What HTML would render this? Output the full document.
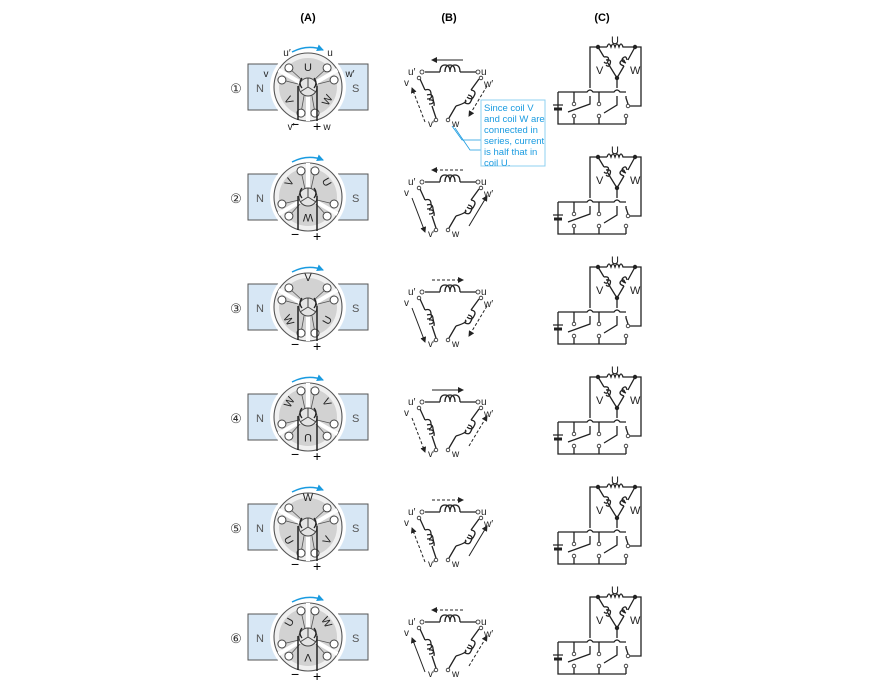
<!DOCTYPE html>
<html><head><meta charset="utf-8"><style>
body{margin:0;background:#fff}
svg{display:block;font-family:"Liberation Sans",sans-serif}
</style></head><body>
<svg width="870" height="680" viewBox="0 0 870 680" xmlns="http://www.w3.org/2000/svg">
<defs>
<marker id="ah" markerWidth="6" markerHeight="6" refX="5" refY="3" orient="auto" markerUnits="userSpaceOnUse"><path d="M0,0 L6,3 L0,6z" fill="#222"/></marker>
<marker id="bh" markerWidth="7" markerHeight="7" refX="6" refY="3.5" orient="auto" markerUnits="userSpaceOnUse"><path d="M0,0 L7,3.5 L0,7z" fill="#1a9be0"/></marker>
<g id="coilH"><path d="M0,0 q0,-7 5,-7 q5,0 5,7 M5,0 q0,-7 5,-7 q5,0 5,7 M10,0 q0,-7 5,-7 q5,0 5,7" fill="none" stroke="#222" stroke-width="1.3"/></g>
<g id="mbase">
<rect x="248" y="64" width="120" height="46" fill="#d7e7f5" stroke="#555" stroke-width="1"/>
<circle cx="308" cy="87" r="38" fill="#fff"/>
<circle cx="308" cy="87" r="34" fill="#f0f0f0" stroke="#555" stroke-width="1.1"/>
<circle cx="308" cy="87" r="29" fill="#d2d2d2"/>
</g>
<g id="mtop">
<circle cx="308" cy="87" r="9" fill="#e4e4e4" stroke="#444"/>
<path d="M308,87 L308,78 M308,87 L300,92 M308,87 L316,92" stroke="#444"/>
<path d="M302,78 q-4,5 0,10 M314,78 q4,5 0,10" stroke="#222" fill="none" stroke-width="1.3"/>
<path d="M298,86 L298,120 M317,86 L317,121" stroke="#222" stroke-width="1.5"/>
<path d="M292,52 Q308,44 323,50" fill="none" stroke="#1a9be0" stroke-width="1.5" marker-end="url(#bh)"/>
<text x="256" y="92" font-size="11" fill="#555">N</text>
<text x="352" y="92" font-size="11" fill="#555">S</text>
<text x="291" y="129" font-size="14">−</text><text x="313" y="131" font-size="14">+</text>
</g>
<g id="motorA">
<use href="#mbase"/>
<path d="M315.8,82.5 L337.4,70 M300.2,82.5 L278.6,70 M308,96 L308,121" stroke="#fff" stroke-width="4"/>
<path d="M334,80 L318,84 M327,68 L314,80 M289,68 L302,80 M282,80 L298,84 M301,113 L304,96 M315,113 L312,96" stroke="#555" stroke-width="0.8"/>
<g fill="#fff" stroke="#444"><circle cx="334.1" cy="80" r="4"/><circle cx="327.1" cy="67.9" r="4"/><circle cx="288.9" cy="67.9" r="4"/><circle cx="281.9" cy="80" r="4"/><circle cx="301" cy="113.1" r="4"/><circle cx="315" cy="113.1" r="4"/></g>
<use href="#mtop"/>
</g>
<g id="motorB">
<use href="#mbase"/>
<path d="M308,78 L308,53 M300.2,91.5 L278.6,104 M315.8,91.5 L337.4,104" stroke="#fff" stroke-width="4"/>
<path d="M315,61 L311,79 M301,61 L305,79 M282,94 L299,90 M289,106 L300,94 M327,106 L316,94 M334,94 L317,90" stroke="#555" stroke-width="0.8"/>
<g fill="#fff" stroke="#444"><circle cx="315" cy="60.9" r="4"/><circle cx="301" cy="60.9" r="4"/><circle cx="281.9" cy="94" r="4"/><circle cx="288.9" cy="106.1" r="4"/><circle cx="327.1" cy="106.1" r="4"/><circle cx="334.1" cy="94" r="4"/></g>
<use href="#mtop"/>
</g>
<g id="tri" stroke="#222" stroke-width="1.3" fill="none">
<path d="M425,72 L440,72 M460,72 L476,72"/>
<use href="#coilH" x="440" y="72"/>
<path d="M420,79 L425,90 M432,106 L436,118"/>
<path d="M425,90 q6,-2 6,4 q2,5 -4,5 M427,95 q6,-2 6,4 q2,5 -4,5 M429,100 q6,-1 5,6"/>
<path d="M479,79 L471,90 M456,106 L449,118"/>
<path d="M471,90 q6,1 3,6 q-2,5 -7,1 M468,95 q6,1 3,6 q-2,5 -7,1 M465,100 q4,2 -9,6"/>
<g fill="#fff" stroke-width="0.8"><circle cx="422" cy="72" r="2"/><circle cx="478" cy="72" r="2"/><circle cx="419" cy="78" r="1.8"/><circle cx="481" cy="78" r="1.8"/><circle cx="436" cy="120" r="1.8"/><circle cx="448" cy="120" r="1.8"/></g>
</g>
<g id="circ" stroke="#222" stroke-width="1.3" fill="none">
<path d="M598,47 L590,47 L590,88 M598,47 L607,47 M625,47 L641,47 L641,106 L628,106"/>
<path d="M607,47 q2,-6 4,0 q2,-6 4,0 q2,-6 4,0 q2,-6 4,0 L625,47"/>
<path d="M598,47 L604,57 M609,65 L617,78 L624,66 M629,58 L635,47"/>
<path d="M604,57 q6,-1 4,4 q-1,4 -4,1 M606,60 q6,-1 4,4 q-1,4 -4,1 M608,63 l1,2"/>
<path d="M624,66 q-6,-2 -3,-5 q3,-3 4,2 M626,63 q-6,-2 -3,-5 q3,-3 4,2 M628,60 l1,-2"/>
<path d="M617,78 L617,88 M617,96 L617,105 L604,113"/>
<path d="M558,92 L587,92 q3,-4 6,0 L614,92 q3,-4 6,0 L626,92"/>
<path d="M590,96 L590,104 L568,112"/>
<path d="M558,92 L558,124 L626,124 M574,92 L574,102 M599,92 L599,102 M574,124 L574,118 M599,124 L599,118 M626,124 L626,118 M626,96 L626,98 L628,104"/>
<path d="M553,105 L563,105" stroke-width="1.2"/><path d="M554,109 L562,109" stroke-width="3"/>
<g fill="#fff" stroke-width="0.8"><circle cx="574" cy="104" r="1.8"/><circle cx="599" cy="104" r="1.8"/><circle cx="574" cy="116" r="1.8"/><circle cx="599" cy="116" r="1.8"/><circle cx="626" cy="116" r="1.8"/><circle cx="628" cy="106" r="1.8"/></g>
<g fill="#222" stroke="none"><circle cx="598" cy="47" r="2.2"/><circle cx="635" cy="47" r="2.2"/><circle cx="617" cy="78" r="2.2"/></g>
</g>
</defs>
<g font-size="11" font-weight="bold" text-anchor="middle"><text x="308" y="21">(A)</text><text x="449" y="21">(B)</text><text x="602" y="21">(C)</text></g>

<use href="#motorA"/><use href="#tri"/><use href="#circ"/>
<use href="#motorB" y="110"/><use href="#tri" y="110"/><use href="#circ" y="110"/>
<use href="#motorA" y="220"/><use href="#tri" y="220"/><use href="#circ" y="220"/>
<use href="#motorB" y="330"/><use href="#tri" y="330"/><use href="#circ" y="330"/>
<use href="#motorA" y="440"/><use href="#tri" y="440"/><use href="#circ" y="440"/>
<use href="#motorB" y="550"/><use href="#tri" y="550"/><use href="#circ" y="550"/>

<g font-size="13" fill="#333" text-anchor="middle">
<text x="236" y="93">①</text><text x="236" y="203">②</text><text x="236" y="313">③</text><text x="236" y="423">④</text><text x="236" y="533">⑤</text><text x="236" y="643">⑥</text>
</g>

<g font-size="11" fill="#222" text-anchor="middle">
<text x="308" y="71">U</text><text x="289" y="104" transform="rotate(60 289 100)">V</text><text x="327" y="104" transform="rotate(-60 327 100)">W</text>
<text x="287" y="56" font-size="10">u′</text><text x="330" y="56" font-size="10">u</text><text x="266" y="77" font-size="10">v</text><text x="350" y="77" font-size="10">w′</text><text x="291" y="130" font-size="10">v′</text><text x="327" y="130" font-size="10">w</text>
<text x="289" y="186" transform="rotate(-60 289 182)">V</text><text x="327" y="186" transform="rotate(60 327 182)">U</text><text x="308" y="222" transform="rotate(180 308 218)">W</text>
<text x="308" y="281">V</text><text x="289" y="324" transform="rotate(60 289 320)">W</text><text x="327" y="324" transform="rotate(-60 327 320)">U</text>
<text x="289" y="406" transform="rotate(-60 289 402)">W</text><text x="327" y="406" transform="rotate(60 327 402)">V</text><text x="308" y="442" transform="rotate(180 308 438)">U</text>
<text x="308" y="501">W</text><text x="289" y="544" transform="rotate(60 289 540)">U</text><text x="327" y="544" transform="rotate(-60 327 540)">V</text>
<text x="289" y="626" transform="rotate(-60 289 622)">U</text><text x="327" y="626" transform="rotate(60 327 622)">W</text><text x="308" y="662" transform="rotate(180 308 658)">V</text>
</g>

<g font-size="10" fill="#222">
<text x="408" y="75">u′</text><text x="481" y="75">u</text><text x="404" y="86">v</text><text x="484" y="87">w′</text><text x="428" y="127">v′</text><text x="452" y="127">w</text>
<text x="408" y="185">u′</text><text x="481" y="185">u</text><text x="404" y="196">v</text><text x="484" y="197">w′</text><text x="428" y="237">v′</text><text x="452" y="237">w</text>
<text x="408" y="295">u′</text><text x="481" y="295">u</text><text x="404" y="306">v</text><text x="484" y="307">w′</text><text x="428" y="347">v′</text><text x="452" y="347">w</text>
<text x="408" y="405">u′</text><text x="481" y="405">u</text><text x="404" y="416">v</text><text x="484" y="417">w′</text><text x="428" y="457">v′</text><text x="452" y="457">w</text>
<text x="408" y="515">u′</text><text x="481" y="515">u</text><text x="404" y="526">v</text><text x="484" y="527">w′</text><text x="428" y="567">v′</text><text x="452" y="567">w</text>
<text x="408" y="625">u′</text><text x="481" y="625">u</text><text x="404" y="636">v</text><text x="484" y="637">w′</text><text x="428" y="677">v′</text><text x="452" y="677">w</text>
</g>

<g stroke="#222" stroke-width="1" fill="none" marker-end="url(#ah)">
<path d="M463,60 L432,60"/><path d="M425,122 L412,88" stroke-dasharray="3,2"/><path d="M487,86 L469,116" stroke-dasharray="3,2"/>
<path d="M463,170 L432,170" stroke-dasharray="3,2"/><path d="M412,198 L425,232"/><path d="M469,226 L487,196"/>
<path d="M432,280 L463,280" stroke-dasharray="3,2"/><path d="M412,308 L425,342"/><path d="M487,306 L469,336" stroke-dasharray="3,2"/>
<path d="M432,390 L463,390"/><path d="M412,418 L425,452" stroke-dasharray="3,2"/><path d="M469,446 L487,416" stroke-dasharray="3,2"/>
<path d="M432,500 L463,500" stroke-dasharray="3,2"/><path d="M425,562 L412,528" stroke-dasharray="3,2"/><path d="M469,556 L487,526"/>
<path d="M463,610 L432,610" stroke-dasharray="3,2"/><path d="M425,672 L412,638"/><path d="M469,666 L487,636" stroke-dasharray="3,2"/>
</g>

<path d="M452,126 L462,140 L483,140 M455,128 L470,150 L483,150" stroke="#1a9be0" fill="none" stroke-width="0.8"/>
<rect x="481" y="100" width="64" height="66" fill="#fff" stroke="#8fd0f0" stroke-width="1"/>
<g font-size="9.5" fill="#1a9be0"><text x="484" y="111">Since coil V</text><text x="484" y="122">and coil W are</text><text x="484" y="133">connected in</text><text x="484" y="144">series, current</text><text x="484" y="155">is half that in</text><text x="484" y="166">coil U.</text></g>

<g font-size="11" fill="#222">
<text x="611" y="44">U</text><text x="596" y="74">V</text><text x="630" y="74">W</text>
<text x="611" y="154">U</text><text x="596" y="184">V</text><text x="630" y="184">W</text>
<text x="611" y="264">U</text><text x="596" y="294">V</text><text x="630" y="294">W</text>
<text x="611" y="374">U</text><text x="596" y="404">V</text><text x="630" y="404">W</text>
<text x="611" y="484">U</text><text x="596" y="514">V</text><text x="630" y="514">W</text>
<text x="611" y="594">U</text><text x="596" y="624">V</text><text x="630" y="624">W</text>
</g>
</svg>
</body></html>
